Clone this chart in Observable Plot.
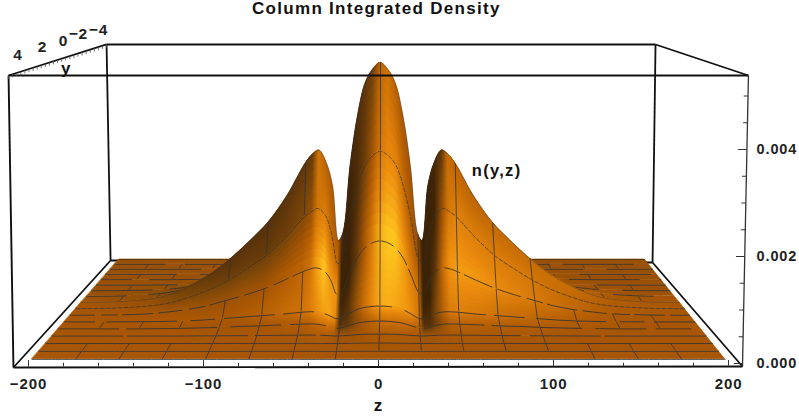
<!DOCTYPE html>
<html><head><meta charset="utf-8">
<script src="https://cdn.jsdelivr.net/npm/d3@7"></script>
<script src="https://cdn.jsdelivr.net/npm/@observablehq/plot@0.6"></script>
<style>html,body{margin:0;background:#fff}svg{display:block}svg text{letter-spacing:.9px}</style>
</head><body><div id="chart"></div>
<script>
// z knots (mirrored for negative z)
const zKnots=[0,5,10,15,20,25,28,32,36,41,45,50,62,75,87,100,112,125,137,150,175,200];
// density in units of 0.001, one list per mesh row, from the front edge (row0) to the ridge y=0 (row8)
const row0=[0,0,0,0,0,0,0,0,0,0,0,0,0,0,0,0,0,0,0,0,0,0];
const row1=[.002,.002,.002,.001,.001,0,0,0,.001,.001,.001,.001,.001,.001,0,0,0,0,0,0,0,0];
const row2=[.01,.01,.008,.006,.003,.001,.001,.002,.004,.005,.005,.005,.004,.003,.002,.001,0,0,0,0,0,0];
const row3=[.04,.04,.035,.025,.012,.004,.004,.01,.016,.02,.02,.019,.015,.01,.008,.005,.003,.001,0,0,0,0];
const row4=[.16,.155,.14,.11,.06,.015,.015,.05,.08,.1,.1,.095,.08,.06,.05,.03,.02,.01,.005,0,0,0];
const row5=[.33,.32,.3,.25,.16,.07,.07,.13,.18,.21,.21,.2,.16,.13,.1,.07,.04,.02,.01,.005,0,0];
const row6=[1.57,1.53,1.42,1.2,.85,.48,.44,.75,.93,1,.98,.92,.74,.56,.43,.31,.2,.12,.07,.03,.005,0];
const row7=[3.39,3.3,3.1,2.65,1.95,1.08,.97,1.6,2,2.16,2.1,1.98,1.55,1.15,.88,.62,.42,.26,.14,.07,.015,.003];
const row8=[5.25,5.1,4.8,4.1,3,1.5,1.35,2.55,3.04,3.33,3.25,3.05,2.35,1.75,1.35,.96,.65,.4,.22,.1,.02,.005];
const halfRows=[row0,row1,row2,row3,row4,row5,row6,row7,row8];
// how strongly each row's front-facing slope catches the light
const rowGlow=[0,0,.08,.25,.55,.5,.42,.12,0];
// colour adjustments, along z on each side of the centre, and their weight per row
const tintRight=[.1,.1,.05,0,-.03,-.05,-.33,-.32,-.24,-.1,-.02,0,0,0,0,0,0,0,0,0,0,0];
const tintLeft=[.1,.04,-.04,-.12,-.22,-.28,.1,.1,.08,.03,0,0,-.02,-.05,-.05,-.04,-.02,0,0,0,0,0];
const rowTint=[0,0,0,.12,.65,1,1,.7,.45];
const zMesh=[-175,-150,-125,-100,-75,-50,-25,0,25,50,75,100,125,150,175];
const rowDash=["none","none","none","70 5 120 8 60 5 200 10","60 8 90 14 50 10 35 12 80 9","30 12 70 14 24 10 50 9","24 7 16 5 30 6","4 2","none","40 22 70 14 30 30","60 18 30 24 90 26","80 14 40 30 50 40","30 18 70 20 45 28","70 24 30 18 60 35","90 16 40 18 60 24","50 20 90 14 70 30","none"];
const frameBack=[[-211.4,5.383,-155.4,5.963],[211.4,5.383,158.3,5.963],[-155.4,5.963,158.3,5.963],[-155.4,5.963,-153.1,1.925],[158.3,5.963,156.6,1.888],[-208.6,-.075,-153.1,1.925],[208,-.056,156.6,1.888],[-153.1,1.925,156.6,1.888]];
const frameFront=[[-211.4,5.383,211.4,5.383],[-211.4,5.383,-208.6,-.075],[-208.6,-.075,208,-.056]];
const rightAxis=[211.4,5.383,208,-.056];
const zMajor=[-200,-100,0,100,200];
const zMinor=[-180,-160,-140,-120,-80,-60,-40,-20,20,40,60,80,120,140,160,180];
const nMajor=[0,2,4];
const nMinor=[.5,1,1.5,2.5,3,3.5,4.5,5];
const yLabels=[{t:"4",z:-206,n:5.76},{t:"2",z:-192,n:5.91},{t:"0",z:-180,n:6.02},{t:"−2",z:-171.5,n:6.15},{t:"−4",z:-160,n:6.24}];
const yTicks=d3.range(0,25);
const slicesOf=band=>band>=3&&band<=7?8:1;

const Vz=8,Vn=7.8;
const sOf=i=>1/(1.01+i*0.322/16);
const rows=d3.range(17).map(i=>halfRows[i<=8?i:16-i]);
const allZ=[...zKnots.slice(1).map(z=>-z).reverse(),...zKnots];
const mid=zKnots.length-1;
const valAt=(i,j)=>rows[i][Math.abs(j-mid)];
const X=(z,s)=>Vz*(1-s)+z*s;
const Y=(n,s)=>Vn*(1-s)+n*s;

const ramp=d3.scaleLinear().domain([0,.12,.25,.42,.6,.8,1]).range(["#3c2206","#55300a","#7a4609","#a85604","#c96e06","#ee8e0e","#ffca20"]).clamp(true);
const rightLight=d3.scaleLinear().domain([0,.5,.8,1]).range([0,.2,.1,-.06]);
const leftShade=d3.scaleLinear().domain([0,.3,.6,1]).range([0,-.18,-.28,-.32]);
function brightness(i,j){
  const m=allZ.length,jm=Math.max(0,j-1),jp=Math.min(m-1,j+1),s=sOf(i);
  const H=(r,jj)=>valAt(r,jj)*53.5*sOf(r);
  const a=(H(i,jp)-H(i,jm))/((allZ[jp]-allZ[jm])*1.75*s);
  const f=i<=8?i:16-i;
  const b=i<8?(H(i+1,j)-H(Math.max(i-1,0),j))/62:0;
  const len=Math.hypot(a,b,1),nx=-a/len,nf=b/len;
  const side=nx>=0?rightLight(nx):leftShade(-nx);
  const glow=rowGlow[f]*nf*(nx<0?1+nx*.8:1);
  const tint=(j>=mid?tintRight:tintLeft)[Math.abs(j-mid)]*rowTint[f];
  return .42+side+glow+tint+.012*valAt(i,j)-(i>8?.05:0);
}
const B=d3.range(17).map(i=>allZ.map((z,j)=>brightness(i,j)));
const lerp=(a,b,t)=>a+(b-a)*t;

const marks=[];
const edge=a=>({x1:a[0],y1:a[1]*1e-3,x2:a[2],y2:a[3]*1e-3});
marks.push(Plot.link(frameBack.map(edge),{x1:"x1",y1:"y1",x2:"x2",y2:"y2",stroke:"#111",strokeWidth:1.8}));

const meshColor="#333";
const rowLine=r=>Plot.line(allZ.map((z,j)=>({x:X(z,sOf(r)),y:Y(valAt(r,j),sOf(r))*1e-3})),{x:"x",y:"y",curve:"catmull-rom",stroke:r==16?"#4a3210":meshColor,strokeWidth:r==7?.8:1,strokeOpacity:r==8?.35:.85,strokeDasharray:rowDash[r]});
for(let band=15;band>=0;band--){
  const s1=sOf(band),s2=sOf(band+1);
  const P=t=>allZ.map((z,j)=>({x:lerp(X(z,s2),X(z,s1),t),y:lerp(Y(valAt(band+1,j),s2),Y(valAt(band,j),s1),t)*1e-3}));
  const n=slicesOf(band);
  const areaOf=(a,b,id,stroke)=>Plot.area(a.map((p,j)=>({x1:p.x,y1:p.y,x2:b[j].x,y2:b[j].y})),{x1:"x1",y1:"y1",x2:"x2",y2:"y2",fill:id,stroke:stroke?id:"none",strokeWidth:.6,curve:"catmull-rom"});
  // a solid base for the whole band, then slices for the smooth change from row to row
  marks.push(areaOf(P(0),P(1),`url(#b${band}_${n>>1})`,true));
  if(n>1) for(let k=0;k<n;k++){
    // each slice reaches back under the previous one, so no seam shows between them
    marks.push(areaOf(P(Math.max(0,(k-.5)/n)),P((k+1)/n),`url(#b${band}_${k})`,false));
  }
  marks.push(rowLine(band+1));
  // mesh lines across the band, running in the y direction
  const zl=zMesh.map(z=>{const j=allZ.indexOf(z);
    const n1=j>=0?valAt(band,j):0,n2=j>=0?valAt(band+1,j):0;
    return {z,band,x1:X(z,s1),y1:Y(n1,s1)*1e-3,x2:X(z,s2),y2:Y(n2,s2)*1e-3};})
    .filter(d=>{const az=Math.abs(d.z);
      if(band>=8) return band%2==0&&az>=100;
      if(d.z==0) return band>=1;
      if(d.z<0) return az<=100?band<=5||band==7:band<=1||band==4;
      return az<=100?band<=7&&band>=1:band<=1||band==4||band==5;});
  marks.push(Plot.link(zl,{x1:"x1",y1:"y1",x2:"x2",y2:"y2",stroke:meshColor,strokeWidth:1,strokeOpacity:.8,strokeDasharray:d=>(d.z==0&&band>=5)||(d.z>0&&d.z<=100&&band>=3)?"none":"9 5"}));
}
marks.push(rowLine(0));
marks.push(Plot.link(frameFront.map(edge),{x1:"x1",y1:"y1",x2:"x2",y2:"y2",stroke:"#111",strokeWidth:1.9}));
marks.push(Plot.link([edge(rightAxis)],{x1:"x1",y1:"y1",x2:"x2",y2:"y2",stroke:"#333",strokeWidth:1.3}));

// bottom axis ticks and labels
const baseN=-.000065;
const FS="Liberation Sans";
marks.push(Plot.ruleX(zMajor,{y1:baseN,y2:baseN+.00012,stroke:"#333"}));
marks.push(Plot.ruleX(zMinor,{y1:baseN,y2:baseN+.00007,stroke:"#333"}));
marks.push(Plot.axisX({ticks:zMajor,tickSize:0,tickPadding:11,fontSize:15,fontWeight:"bold",fontFamily:FS,label:null,fill:"#222"}));
// right axis ticks and labels
const axZ=n=>208+(n/5.383)*3.4;
marks.push(Plot.link(nMajor.map(n=>({n})),{x1:d=>axZ(d.n)-5,x2:d=>axZ(d.n),y1:d=>d.n*1e-3,y2:d=>d.n*1e-3,stroke:"#333"}));
marks.push(Plot.link(nMinor.map(n=>({n})),{x1:d=>axZ(d.n)-2.5,x2:d=>axZ(d.n),y1:d=>d.n*1e-3,y2:d=>d.n*1e-3,stroke:"#333"}));
marks.push(Plot.axisY({ticks:nMajor.map(n=>n*1e-3),tickFormat:d3.format(".3f"),anchor:"right",tickSize:0,tickPadding:8,fontSize:14.5,fontWeight:"bold",fontFamily:FS,label:null,fill:"#222"}));
// y axis on the top-left edge
const edgeAt=t=>({z:-211.4+56*t,n:5.383+.58*t});
marks.push(Plot.link(yTicks.map(i=>edgeAt(i/24)),{x1:"z",x2:"z",y1:d=>d.n*1e-3,y2:d=>(d.n-.06)*1e-3,stroke:"#555",strokeWidth:.8}));
marks.push(Plot.text(yLabels,{x:"z",y:d=>d.n*1e-3,text:"t",fontSize:15.5,fontWeight:"bold",fontFamily:FS,fill:"#222"}));
// titles
const txt=(t,z,n,fs)=>Plot.text([t],{x:()=>z,y:()=>n*1e-3,text:d=>d,fontSize:fs,fontWeight:"bold",fontFamily:FS,fill:"#111"});
marks.push(txt("Column Integrated Density",-1.2,6.635,17));
marks.push(txt("y",-178.5,5.51,17));
marks.push(txt("z",0,-.78,17));
marks.push(txt("n(y,z)",67.5,3.6,16.5));

const plot=Plot.plot({width:799,height:417,marginTop:0,marginLeft:0,marginRight:51,marginBottom:50,
  x:{domain:[-200,200],range:[28,728]},y:{domain:[0,.005],range:[363,95.5]},style:{background:"#fff",overflow:"visible"},marks});
// horizontal shading gradients, one per slice of each band, built from the surface values
const sx=plot.scale("x");
const defs=d3.select(plot).insert("svg:defs",":first-child");
for(let band=0;band<16;band++){
  const n=slicesOf(band);
  for(let k=0;k<n;k++){
    const t=(k+.5)/n; // t=0 at row band+1, t=1 at row band
    const s=1/lerp(1/sOf(band+1),1/sOf(band),t);
    const x0=sx.apply(X(-200,s)),x1=sx.apply(X(200,s));
    const g=defs.append("linearGradient").attr("id",`b${band}_${k}`).attr("gradientUnits","userSpaceOnUse").attr("x1",x0).attr("x2",x1).attr("y1",0).attr("y2",0);
    allZ.forEach((z,j)=>g.append("stop").attr("offset",(sx.apply(X(z,s))-x0)/(x1-x0)).attr("stop-color",ramp(lerp(B[band+1][j],B[band][j],t))));
  }
}
d3.select(plot).selectAll("text").filter(function(){return this.textContent.startsWith("Column")||this.textContent.startsWith("n(y")}).style("letter-spacing","1.3px");
document.getElementById("chart").append(plot);
</script></body></html>
